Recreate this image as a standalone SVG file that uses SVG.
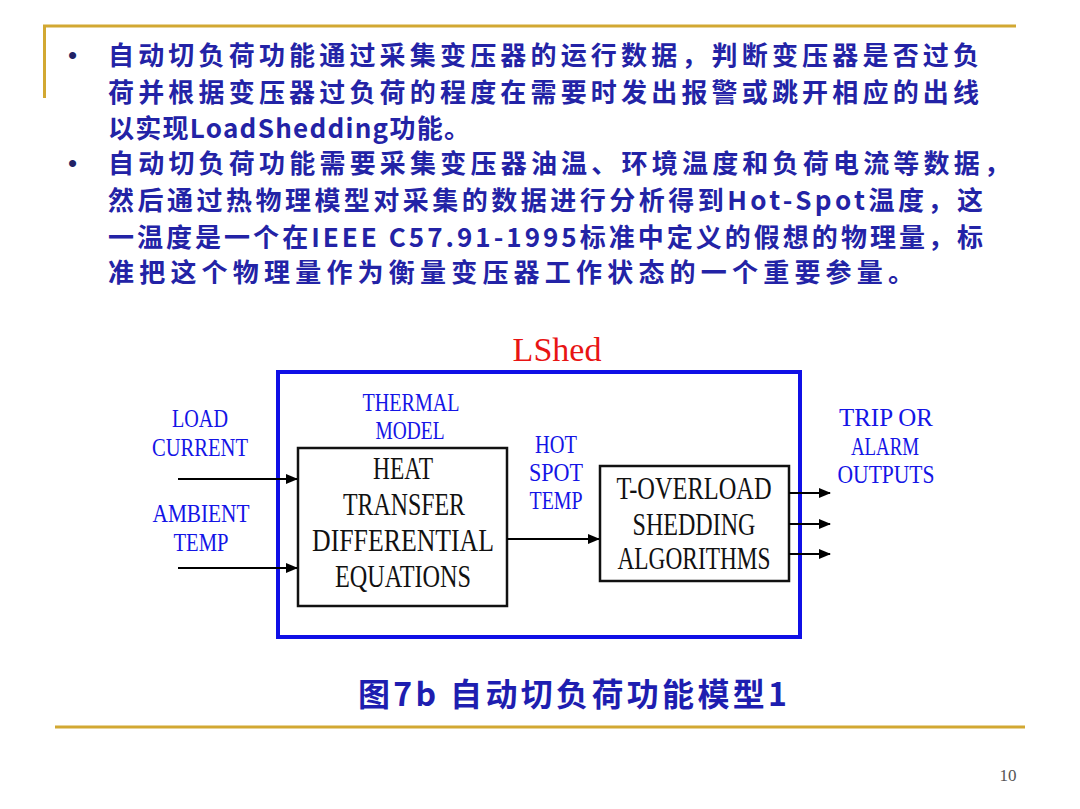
<svg xmlns="http://www.w3.org/2000/svg" width="1080" height="809" viewBox="0 0 1080 809">
<defs>
<marker id="arr" markerUnits="userSpaceOnUse" markerWidth="12" markerHeight="10" refX="11" refY="5" orient="auto">
<path d="M0,0 L12,5 L0,10 Z" fill="#000"/>
</marker>
<style>
.gold{stroke:#d2a832;stroke-width:3;fill:none}
.cn{font-family:"Noto Sans CJK SC","Noto Sans CJK JP",sans-serif;font-weight:700;font-size:26px;fill:#2323a6}
.bul{font-family:"Liberation Sans",sans-serif;font-size:26px;fill:#222266}
.lbl{font-family:"Liberation Serif",serif;font-size:26px;fill:#1414e6;text-anchor:middle}
.box{font-family:"Liberation Serif",serif;font-size:32px;fill:#111;text-anchor:middle}
.nb{fill:#fff;stroke:#111;stroke-width:2.5}
.con{stroke:#000;stroke-width:2;fill:none;marker-end:url(#arr)}
</style>
</defs>
<rect width="1080" height="809" fill="#fff"/>
<g id="frame">
<line class="gold" x1="43" y1="26" x2="1016" y2="26"/>
<line class="gold" x1="44.5" y1="26" x2="44.5" y2="98"/>
<line class="gold" x1="55" y1="727" x2="1025" y2="727"/>
</g>
<g id="bullets">
<text class="bul" x="68" y="64">•</text>
<text class="bul" x="68" y="172">•</text>
<text class="cn" x="108" y="65" textLength="871">自动切负荷功能通过采集变压器的运行数据，判断变压器是否过负</text>
<text class="cn" x="108" y="102" textLength="871">荷并根据变压器过负荷的程度在需要时发出报警或跳开相应的出线</text>
<text class="cn" x="108" y="138" textLength="362">以实现LoadShedding功能。</text>
<text class="cn" x="108" y="173" textLength="902">自动切负荷功能需要采集变压器油温、环境温度和负荷电流等数据，</text>
<text class="cn" x="108" y="210" textLength="875">然后通过热物理模型对采集的数据进行分析得到Hot-Spot温度，这</text>
<text class="cn" x="108" y="247" textLength="875">一温度是一个在IEEE C57.91-1995标准中定义的假想的物理量，标</text>
<text class="cn" x="108" y="282" textLength="806">准把这个物理量作为衡量变压器工作状态的一个重要参量。</text>
</g>
<g id="lshed">
<text x="557" y="361" font-family="Liberation Serif, serif" font-size="34" fill="#e81414" text-anchor="middle">LShed</text>
<rect x="278" y="372" width="522" height="265" fill="none" stroke="#1010e6" stroke-width="4"/>
</g>
<g id="inputs">
<text class="lbl" x="200" y="427" textLength="56" lengthAdjust="spacingAndGlyphs">LOAD</text>
<text class="lbl" x="200" y="456" textLength="96" lengthAdjust="spacingAndGlyphs">CURRENT</text>
<text class="lbl" x="201" y="522" textLength="97" lengthAdjust="spacingAndGlyphs">AMBIENT</text>
<text class="lbl" x="201" y="551" textLength="55" lengthAdjust="spacingAndGlyphs">TEMP</text>
</g>
<g id="thermal">
<text class="lbl" x="411" y="411" textLength="97" lengthAdjust="spacingAndGlyphs">THERMAL</text>
<text class="lbl" x="410" y="439" textLength="69" lengthAdjust="spacingAndGlyphs">MODEL</text>
<rect class="nb" x="298" y="448" width="209" height="158"/>
<text class="box" x="403" y="479" textLength="60" lengthAdjust="spacingAndGlyphs">HEAT</text>
<text class="box" x="404" y="515" textLength="122" lengthAdjust="spacingAndGlyphs">TRANSFER</text>
<text class="box" x="403" y="551" textLength="182" lengthAdjust="spacingAndGlyphs">DIFFERENTIAL</text>
<text class="box" x="403" y="587" textLength="136" lengthAdjust="spacingAndGlyphs">EQUATIONS</text>
</g>
<g id="hotspot">
<text class="lbl" x="556" y="453" textLength="42" lengthAdjust="spacingAndGlyphs">HOT</text>
<text class="lbl" x="556" y="481" textLength="54" lengthAdjust="spacingAndGlyphs">SPOT</text>
<text class="lbl" x="556" y="509" textLength="53" lengthAdjust="spacingAndGlyphs">TEMP</text>
</g>
<g id="overload">
<rect class="nb" x="600" y="466" width="189" height="115"/>
<text class="box" x="694" y="499" textLength="155" lengthAdjust="spacingAndGlyphs">T-OVERLOAD</text>
<text class="box" x="694" y="535" textLength="123" lengthAdjust="spacingAndGlyphs">SHEDDING</text>
<text class="box" x="694" y="569" textLength="153" lengthAdjust="spacingAndGlyphs">ALGORITHMS</text>
</g>
<g id="outputs">
<text class="lbl" x="886" y="426" textLength="94" lengthAdjust="spacingAndGlyphs">TRIP OR</text>
<text class="lbl" x="885" y="455" textLength="68" lengthAdjust="spacingAndGlyphs">ALARM</text>
<text class="lbl" x="886" y="483" textLength="97" lengthAdjust="spacingAndGlyphs">OUTPUTS</text>
</g>
<g id="connectors">
<line class="con" x1="178" y1="479" x2="297" y2="479"/>
<line class="con" x1="178" y1="568" x2="297" y2="568"/>
<line class="con" x1="507" y1="539" x2="599" y2="539"/>
<line class="con" x1="789" y1="493" x2="830" y2="493"/>
<line class="con" x1="789" y1="524" x2="830" y2="524"/>
<line class="con" x1="789" y1="554" x2="830" y2="554"/>
</g>
<g id="caption">
<text x="358" y="706" textLength="429" font-family="Noto Sans CJK SC, Noto Sans CJK JP, sans-serif" font-weight="700" font-size="32" fill="#1e1eb0">图7b 自动切负荷功能模型1</text>
<text x="1008" y="781" font-family="Liberation Serif, serif" font-size="17" fill="#555" text-anchor="middle">10</text>
</g>
</svg>
